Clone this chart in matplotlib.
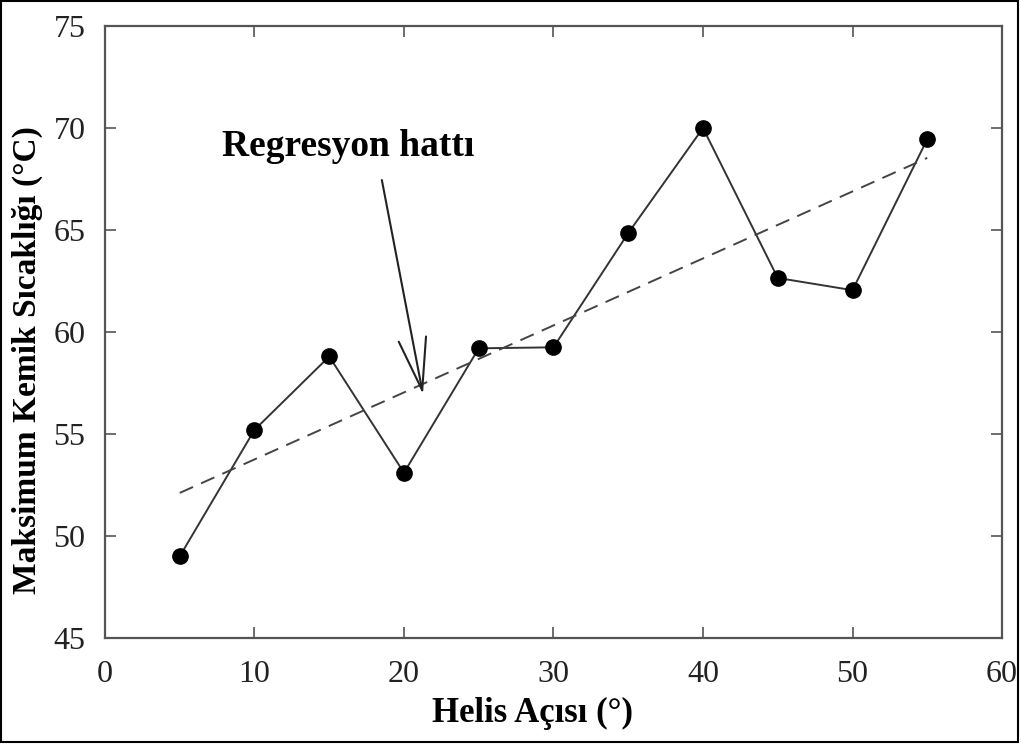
import numpy as np
import matplotlib
matplotlib.use('Agg')
import matplotlib.pyplot as plt
from matplotlib.patches import Rectangle

# Veriler
helis_acisi = np.array([5, 10, 15, 20, 25, 30, 35, 40, 45, 50, 55])
sicaklik = np.array([49.0, 55.2, 58.8, 53.1, 59.2, 59.25, 64.85, 70.0, 62.65, 62.05, 69.45])

x_ticks = [0, 10, 20, 30, 40, 50, 60]
y_ticks = [45, 50, 55, 60, 65, 70, 75]

# Regresyon hattı (en küçük kareler)
egim, kesen = np.polyfit(helis_acisi, sicaklik, 1)
x_reg = np.array([helis_acisi.min(), helis_acisi.max()])
y_reg = egim * x_reg + kesen

plt.rcParams['font.family'] = ['Liberation Serif', 'DejaVu Serif']

fig = plt.figure(figsize=(10.21, 7.44), dpi=100)
ax = fig.add_axes([0.1028, 0.1425, 0.8786, 0.8225])

ax.plot(helis_acisi, sicaklik, color='#333333', linewidth=1.4, marker='o',
        markersize=11, markerfacecolor='black', markeredgecolor='black')
ax.plot(x_reg, y_reg, color='#444444', linewidth=1.4, dashes=(7.5, 4.5))

ax.set_xlim(0, 60)
ax.set_ylim(45, 75)
ax.set_xticks(x_ticks)
ax.set_yticks(y_ticks)
ax.tick_params(direction='in', length=8, width=1.2, colors='#555555',
               labelcolor='#222222', labelsize=23, top=True, right=True)
ax.tick_params(axis='x', pad=16)
ax.tick_params(axis='y', pad=14)
for s in ax.spines.values():
    s.set_color('#555555')
    s.set_linewidth(1.6)

ax.set_xlabel('Helis Açısı (°)', fontsize=25, fontweight='bold')
ax.set_ylabel('Maksimum Kemik Sıcaklığı (°C)', fontsize=24, fontweight='bold')
ax.xaxis.label.set(va='center', ha='center')
ax.yaxis.label.set(va='center', ha='center', rotation_mode='anchor')
ax.xaxis.set_label_coords(0.477, -0.124)
ax.yaxis.set_label_coords(-0.087, 0.454)

ax.text(16.25, 69.1, 'Regresyon hattı', ha='center', va='center',
        fontsize=27, fontweight='bold', color='black')
ax.annotate('', xy=(21.27, 56.95), xytext=(18.52, 67.45),
            arrowprops=dict(arrowstyle='->, head_length=0.75, head_width=0.2',
                            color='#222222', lw=1.5, mutation_scale=50,
                            shrinkA=0, shrinkB=0))

# Dış çerçeve
fig.patches.append(Rectangle((0.001, 0.003), 0.996, 0.995, transform=fig.transFigure,
                             fill=False, edgecolor='black', linewidth=1.5))

plt.savefig('out.png', dpi=100)
